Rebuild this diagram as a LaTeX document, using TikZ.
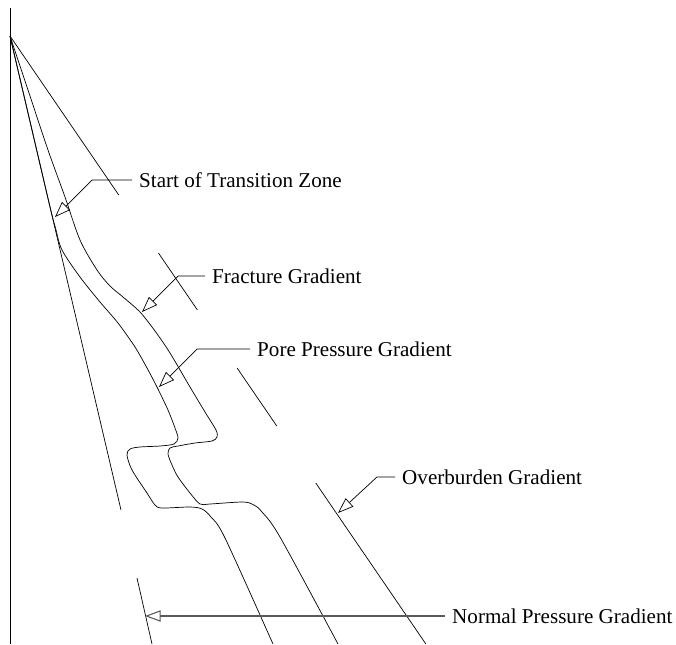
\documentclass[tikz,border=0pt]{standalone}
\usepackage{fontspec}
\setmainfont{Liberation Serif}
\usetikzlibrary{arrows.meta}

\begin{document}
\begin{tikzpicture}[x=0.03cm, y=-0.03cm,
    thinline/.style={line width=0.6pt},
    leader/.style={line width=0.6pt, -{Triangle[open, length=4.7mm, width=3.4mm]}},
    lbl/.style={anchor=west, inner xsep=0.21cm, inner ysep=0pt, font=\fontsize{18}{21}\selectfont}]

    \useasboundingbox (0,0) rectangle (676,644);

    % depth axis and surface point
    \coordinate (origin) at (10,36);
    \coordinate (axtop) at (10,8);
    \coordinate (axbot) at (10,644);
    \draw[line width=0.8pt] (axtop) -- (axbot);

    % normal pressure gradient (broken)
    \draw[thinline] (origin) -- (121,510);
    \draw[thinline] (137,578) -- (152,644);

    % overburden gradient (broken)
    \foreach \ya/\yb in {36/195, 253/310, 368/426, 483/644}
        \draw[thinline] ({10+0.684*(\ya-36)},\ya) -- ({10+0.684*(\yb-36)},\yb);

    % pore pressure curve
    \draw[thinline] plot[smooth, tension=0.5] coordinates {
        (10,36) (30.1,122) (50,207) (55.5,228) (62,250) (80,277) (100,302)
        (118,323) (135,347) (147,368) (157,387) (168,410) (175,428) (178,438)
        (174,444) (160,446) (140,447) (130,449) (127,455) (132,470) (147,493)
        (155,505) (162,508) (190,507) (202,509) (211,517) (225,538) (273,644)};

    % fracture curve
    \draw[thinline] plot[smooth, tension=0.5] coordinates {
        (10,36) (29,93) (48,150) (65,197) (80,240) (97,270) (110,286)
        (123,297) (140,312) (155,331) (170,353) (190,387) (205,412) (216,430)
        (217,437) (212,441) (195,443) (178,446) (170,448) (168,454) (172,465)
        (178,477) (190,493) (200,504) (210,504) (243,502) (254,505) (262,512)
        (280,537) (338,644)};

    % labels and leaders
    \node[lbl] (startlbl) at (132,180) {Start of Transition Zone};
    \coordinate (startelb) at (92,180);
    \coordinate (starttip) at (55,217);
    \draw[leader] (startlbl.west) -- (startelb) -- (starttip);

    \node[lbl] (fraclbl) at (205,276) {Fracture Gradient};
    \coordinate (fracelb) at (178,276);
    \coordinate (fractip) at (142,312);
    \draw[leader] (fraclbl.west) -- (fracelb) -- (fractip);

    \node[lbl] (porelbl) at (250,349) {Pore Pressure Gradient};
    \coordinate (poreelb) at (197,349);
    \coordinate (poretip) at (159,387);
    \draw[leader] (porelbl.west) -- (poreelb) -- (poretip);

    \node[lbl] (overlbl) at (395,477) {Overburden Gradient};
    \coordinate (overelb) at (377,477);
    \coordinate (overtip) at (338,513);
    \draw[leader] (overlbl.west) -- (overelb) -- (overtip);

    \node[lbl] (normlbl) at (445,616) {Normal Pressure Gradient};
    \coordinate (normtip) at (145,616);
    \draw[leader, draw=gray!70!black, line width=0.9pt] (normlbl.west) -- (normtip);

\end{tikzpicture}
\end{document}
